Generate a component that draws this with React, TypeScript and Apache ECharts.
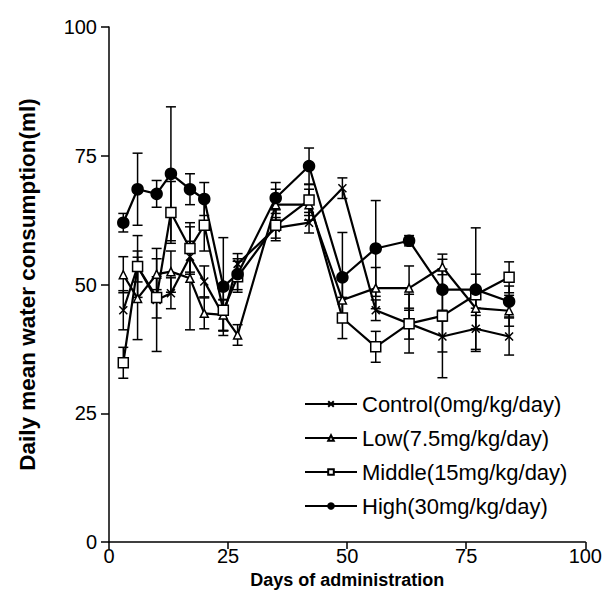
import React, { useEffect, useRef } from "react";
import * as echarts from "echarts";

const days = [3, 6, 10, 13, 17, 20, 24, 27, 35, 42, 49, 56, 63, 70, 77, 84];
const xTicks = [0, 25, 50, 75, 100];
const yTicks = [0, 25, 50, 75, 100];

const seriesNames = [
  "Control(0mg/kg/day)",
  "Low(7.5mg/kg/day)",
  "Middle(15mg/kg/day)",
  "High(30mg/kg/day)",
];

const control = [45, 53.5, 47, 48.3, 55.4, 50.6, 44, 54, 61, 62, 68.7, 45, 42.4, 39.9, 41.4, 39.9];
const low = [51.9, 47.3, 52, 52.5, 51.2, 44.4, 44.1, 40.2, 65.5, 65.5, 47, 49.3, 49.3, 53.4, 45.4, 44.9];
const middle = [34.8, 53.5, 47.5, 64, 57, 61.5, 45, 51.5, 61.5, 66.4, 43.5, 37.9, 42.4, 43.9, 48, 51.4];
const high = [62, 68.5, 67.6, 71.5, 68.5, 66.6, 49.6, 52, 66.8, 73, 51.4, 57, 58.5, 49, 49, 46.7];

const controlSd = [3.8, 3, 10, 3, 3, 3, 3, 2, 2, 2, 2, 2, 5.7, 3, 4, 3.6];
const lowSd = [3.5, 8, 3, 4, 10, 3, 3, 2, 3, 3, 4, 4, 4.3, 1.5, 4, 3];
const middleSd = [3, 6, 4, 6, 5, 5, 4, 3, 3, 3, 4, 3, 3, 12, 4, 3];
const highSd = [1.8, 7, 2.6, 13, 3, 3.2, 9.5, 3, 3, 3.5, 8.7, 9.3, 1, 4, 12, 3];

const FONT = "Liberation Sans, Arial, sans-serif";

function errorSeries(name: string, values: number[], sds: number[]) {
  return {
    type: "custom",
    name: name + " err",
    silent: true,
    z: 1,
    renderItem: (params: any, api: any) => {
      const x = api.value(0);
      const lo = api.coord([x, api.value(1)]);
      const hi = api.coord([x, api.value(2)]);
      const w = 5;
      const st = { stroke: "#000", lineWidth: 1.5 };
      return {
        type: "group",
        children: [
          { type: "line", shape: { x1: lo[0], y1: lo[1], x2: hi[0], y2: hi[1] }, style: st },
          { type: "line", shape: { x1: lo[0] - w, y1: lo[1], x2: lo[0] + w, y2: lo[1] }, style: st },
          { type: "line", shape: { x1: hi[0] - w, y1: hi[1], x2: hi[0] + w, y2: hi[1] }, style: st },
        ],
      };
    },
    encode: { x: 0, y: [1, 2] },
    data: days.map((d, i) => [d, values[i] - sds[i], values[i] + sds[i]]),
  };
}

function lineSeries(name: string, values: number[], symbol: string, size: number, fill: string) {
  return {
    type: "line",
    name,
    z: 3,
    symbol,
    symbolSize: size,
    showAllSymbol: true,
    lineStyle: { color: "#000", width: 2.2 },
    itemStyle: { color: fill, borderColor: "#000", borderWidth: 1.5 },
    data: days.map((d, i) => [d, values[i]]),
  };
}

export default function App() {
  const ref = useRef<HTMLDivElement>(null);
  useEffect(() => {
    if (!ref.current) return;
    const chart = echarts.init(ref.current, undefined, { renderer: "svg" });
    const axisLine = { show: true, lineStyle: { color: "#000", width: 1.5 } };
    chart.setOption({
      animation: false,
      backgroundColor: "#fff",
      grid: { left: 100, right: 8, top: 19, bottom: 62, containLabel: false },
      xAxis: {
        type: "value",
        min: 0,
        max: 100,
        interval: 25,
        axisLine,
        axisTick: { show: true, length: 7, lineStyle: { color: "#000", width: 1.5 } },
        splitLine: { show: false },
        axisLabel: {
          color: "#000",
          fontSize: 20,
          fontFamily: FONT,
          margin: 4,
          formatter: (v: number) => (xTicks.includes(v) ? String(v) : ""),
        },
        name: "Days of administration",
        nameLocation: "middle",
        nameGap: 28,
        nameTextStyle: { color: "#000", fontSize: 18, fontWeight: "bold", fontFamily: FONT },
      },
      yAxis: {
        type: "value",
        min: 0,
        max: 100,
        interval: 25,
        axisLine,
        axisTick: { show: true, length: 8, lineStyle: { color: "#000", width: 1.5 } },
        splitLine: { show: false },
        axisLabel: {
          color: "#000",
          fontSize: 20,
          fontFamily: FONT,
          margin: 12,
          formatter: (v: number) => (yTicks.includes(v) ? String(v) : ""),
        },
        name: "Daily mean water consumption(ml)",
        nameLocation: "middle",
        nameGap: 70,
        nameTextStyle: { color: "#000", fontSize: 22.5, fontWeight: "bold", fontFamily: FONT },
      },
      legend: {
        show: true,
        orient: "vertical",
        left: 291,
        top: 380,
        itemGap: 12,
        itemWidth: 52,
        itemHeight: 7,
        data: seriesNames,
        textStyle: { color: "#000", fontSize: 22, fontFamily: FONT },
      },
      series: [
        errorSeries(seriesNames[0], control, controlSd),
        errorSeries(seriesNames[1], low, lowSd),
        errorSeries(seriesNames[2], middle, middleSd),
        errorSeries(seriesNames[3], high, highSd),
        lineSeries(seriesNames[0], control, "path://M0,0L10,10M10,0L0,10", 8, "#000"),
        lineSeries(seriesNames[1], low, "triangle", 8, "#fff"),
        lineSeries(seriesNames[2], middle, "rect", 10, "#fff"),
        lineSeries(seriesNames[3], high, "circle", 11, "#000"),
      ],
    });
    return () => chart.dispose();
  }, []);
  return <div ref={ref} style={{ width: 597, height: 596 }} />;
}
